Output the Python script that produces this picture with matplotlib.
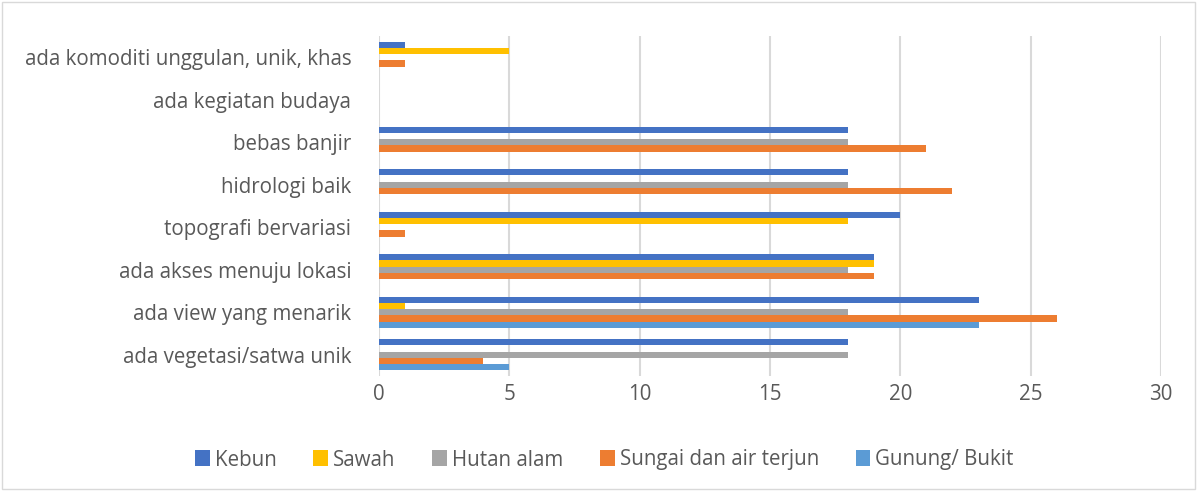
import numpy as np
import matplotlib.pyplot as plt
from matplotlib.patches import Rectangle

plt.rcParams['font.family'] = ['Open Sans', 'DejaVu Sans']

# kategori dari bawah ke atas
kategori = ['ada vegetasi/satwa unik', 'ada view yang menarik', 'ada akses menuju lokasi',
            'topografi bervariasi', 'hidrologi baik', 'bebas banjir',
            'ada kegiatan budaya', 'ada komoditi unggulan, unik, khas']

kebun  = [18, 23, 19, 20, 18, 18, 0, 1]
sawah  = [0, 1, 19, 18, 0, 0, 0, 5]
hutan  = [18, 18, 18, 0, 18, 18, 0, 0]
sungai = [4, 26, 19, 1, 22, 21, 0, 1]
gunung = [5, 23, 0, 0, 0, 0, 0, 0]

seri = ['Kebun', 'Sawah', 'Hutan alam', 'Sungai dan air terjun', 'Gunung/ Bukit']
warna = ['#4472C4', '#FFC000', '#A5A5A5', '#ED7D31', '#5B9BD5']
nilai = [kebun, sawah, hutan, sungai, gunung]

fig = plt.figure(figsize=(11.97, 4.91), dpi=100)
ax = fig.add_axes([379/1197, 1 - 376/491, (1161 - 379)/1197, (376 - 36)/491])

y = np.arange(len(kategori))
h = 0.146
for i, (s, c, v) in enumerate(zip(seri, warna, nilai)):
    # Kebun paling atas di setiap grup
    off = (2 - i) * h
    ax.barh(y + off, v, height=h, color=c, label=s, zorder=3)

ax.set_xlim(0, 30)
ax.set_ylim(-0.5, len(kategori) - 0.5)
ax.set_xticks(range(0, 31, 5))
ax.set_yticks(y)
ax.set_yticklabels(kategori)
ax.tick_params(axis='both', length=0, labelsize=14.8, colors='#595959')
ax.tick_params(axis='y', pad=20)
ax.tick_params(axis='x', pad=6)
ax.grid(axis='x', color='#D9D9D9', linewidth=1.5, zorder=0)
for sp in ax.spines.values():
    sp.set_visible(False)

leg = fig.legend(loc='center', bbox_to_anchor=(0.505, 1 - 460/491), ncol=5, frameon=False,
                 fontsize=14.8, handlelength=0.7, handleheight=0.8, handletextpad=0.25,
                 columnspacing=1.8)
for t in leg.get_texts():
    t.set_color('#595959')

fig.patches.append(Rectangle((0.002, 0.004), 0.996, 0.992, transform=fig.transFigure,
                             fill=False, edgecolor='#D9D9D9', linewidth=1))

fig.savefig('out.png', dpi=100)
